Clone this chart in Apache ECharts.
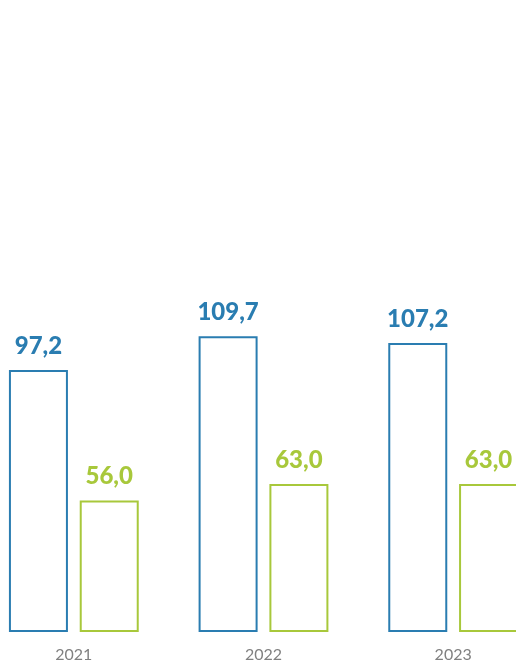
<!DOCTYPE html>
<html><head><meta charset="utf-8">
<script src="https://cdn.jsdelivr.net/npm/echarts@6/dist/echarts.min.js"></script>
<style>html,body{margin:0;padding:0;background:#fff;overflow:hidden;width:516px;height:664px}#c{position:absolute;left:-21px;top:0;width:569px;height:664px}</style>
</head><body><div id="c"></div>
<script>
const categories = ['2021', '2022', '2023'];
const seriesA = [97.2, 109.7, 107.2];
const seriesB = [56.0, 63.0, 63.0];
const blue = '#2a7db1';
const green = '#a8c83b';
const fmt = p => p.value.toFixed(1).replace('.', ',');
const chart = echarts.init(document.getElementById('c'));
chart.setOption({
  animation: false,
  grid: { left: 0, right: 0, top: 232, height: 400 },
  xAxis: {
    type: 'category', data: categories,
    axisLine: { show: false }, axisTick: { show: false },
    axisLabel: { color: '#808080', fontSize: 16, fontWeight: 'normal', fontFamily: 'Lato', margin: 15 }
  },
  yAxis: [
    { type: 'value', min: 0, max: 148.4, show: false, splitLine: { show: false } },
    { type: 'value', min: 0, max: 170.4, show: false, splitLine: { show: false } }
  ],
  series: [
    {
      type: 'bar', data: seriesA, yAxisIndex: 0, barWidth: 59, barGap: '20%',
      itemStyle: { color: 'rgba(255,255,255,0)', borderColor: blue, borderWidth: 2 },
      label: { show: true, position: 'top', distance: 12, formatter: fmt, color: blue, fontSize: 24, fontWeight: 900, fontFamily: 'Lato' }
    },
    {
      type: 'bar', data: seriesB, yAxisIndex: 1, barWidth: 59,
      itemStyle: { color: 'rgba(255,255,255,0)', borderColor: green, borderWidth: 2 },
      label: { show: true, position: 'top', distance: 12, formatter: fmt, color: green, fontSize: 24, fontWeight: 900, fontFamily: 'Lato' }
    }
  ]
});
</script></body></html>
